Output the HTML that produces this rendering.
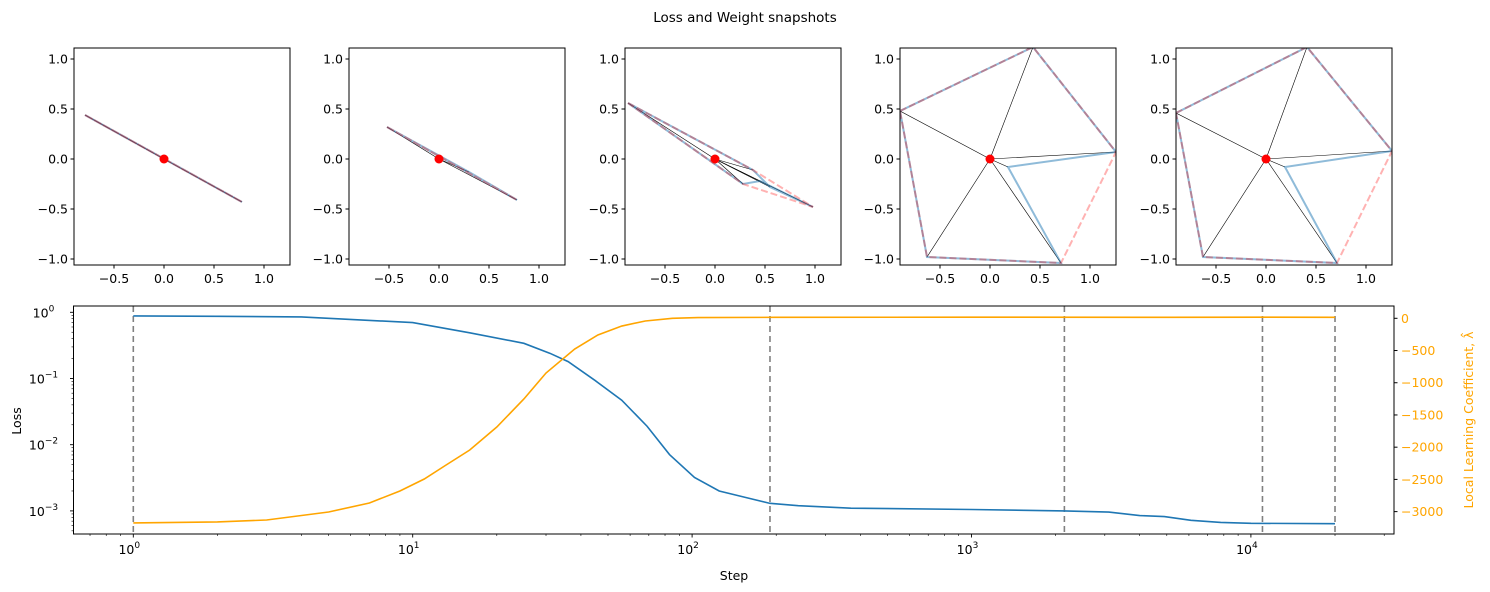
<!DOCTYPE html>
<html><head><meta charset="utf-8">
<style>
html,body{margin:0;padding:0;background:#fff;}
svg{display:block;font-family:"DejaVu Sans","Liberation Sans",sans-serif;}
</style></head>
<body>
<svg id="fig" width="1490" height="592" viewBox="0 0 1490 592" xmlns="http://www.w3.org/2000/svg">
<rect width="1490" height="592" fill="#fff"/>
<text x="745" y="22" text-anchor="middle" font-size="13.5" fill="#000">Loss and Weight snapshots</text>
</svg>
<script>
// ---------- data ----------
const snapSteps = [1, 190, 2150, 11000, 20000];
const panelLefts = [74, 349, 625, 900, 1176];
// weight hull (red dashed) polygons per snapshot
const hullPolys = [
  [[-0.79,0.44],[0.78,-0.43]],
  [[-0.52,0.32],[0.78,-0.41]],
  [[-0.87,0.56],[0.38,-0.11],[0.98,-0.48],[0.28,-0.25]],
  [[-0.90,0.48],[0.43,1.12],[1.26,0.07],[0.71,-1.04],[-0.63,-0.98]],
  [[-0.90,0.46],[0.41,1.12],[1.26,0.08],[0.71,-1.04],[-0.63,-0.98]]
];
// weight ordering (blue) polygons
const weightPolys = [
  [[-0.79,0.44],[0.78,-0.43]],
  [[-0.52,0.32],[0.3,-0.13],[0.78,-0.41]],
  [[-0.87,0.56],[0.38,-0.11],[0.55,-0.28],[0.98,-0.48],[0.45,-0.22],[0.28,-0.25]],
  [[-0.90,0.48],[0.43,1.12],[1.26,0.07],[0.18,-0.08],[0.71,-1.04],[-0.63,-0.98]],
  [[-0.90,0.46],[0.41,1.12],[1.26,0.08],[0.19,-0.08],[0.71,-1.04],[-0.63,-0.98]]
];
const panelTicksX = [-0.5, 0.0, 0.5, 1.0];
const panelTicksY = [-1.0, -0.5, 0.0, 0.5, 1.0];

const lossSteps = [1,2,4,10,16,25,31,36,45,56,69,83,102,125,155,190,240,370,1000,2150,3100,4000,4900,6100,7800,10000,20000];
const lossVals  = [0.88,0.87,0.85,0.70,0.49,0.34,0.24,0.18,0.093,0.047,0.019,0.0071,0.0032,0.0020,0.0016,0.0013,0.0012,0.0011,0.00105,0.001,0.00096,0.00085,0.00082,0.00072,0.00067,0.00065,0.00064];
const llcSteps = [1,2,3,5,7,9,11,13,16,20,25,30,38,46,56,68,85,105,200,1000,5000,11000,20000];
const llcVals  = [-3176,-3160,-3130,-3006,-2866,-2680,-2494,-2292,-2044,-1687,-1252,-849,-477,-259,-120,-42,0,12,15,17,15,18,15];
const xMajor = [1,10,100,1000,10000];
const xMajorExp = ["0","1","2","3","4"];
const yMajor = [1,0.1,0.01,0.001];
const yMajorExp = ["0","−1","−2","−3"];
const rTicks = [0,-500,-1000,-1500,-2000,-2500,-3000];

// ---------- drawing ----------
const NS="http://www.w3.org/2000/svg";
const svg=document.getElementById('fig');
function mk(tag,attrs,parent){const e=document.createElementNS(NS,tag);for(const k in attrs)e.setAttribute(k,attrs[k]);(parent||svg).appendChild(e);return e;}
function fmt(v){return (v<0?'−':'')+Math.abs(v).toFixed(1);}

// snapshot panels
const PW=216, PT=48, PH=217, X0=-0.9, X1=1.26, Y0=-1.06, Y1=1.11;
panelLefts.forEach((L,i)=>{
  const g=mk('g',{});
  
  
  const sx=v=>L+(v-X0)/(X1-X0)*PW;
  const sy=v=>PT+(Y1-v)/(Y1-Y0)*PH;
  const clipId='clip'+i;
  const cp=mk('clipPath',{id:clipId},g); mk('rect',{x:L,y:PT,width:PW,height:PH},cp);
  const inner=mk('g',{'clip-path':'url(#'+clipId+')'},g);
  const wp=weightPolys[i];
  wp.forEach(p=>{
    const ln=mk('line',{x1:sx(0),y1:sy(0),x2:sx(p[0]),y2:sy(p[1]),stroke:'#000','stroke-width':0.6},inner);
    
    
  });
  const bp=mk('polygon',{points:wp.map(p=>sx(p[0])+','+sy(p[1])).join(' '),fill:'none',stroke:'#1f77b4','stroke-opacity':0.5,'stroke-width':2},inner);
  
  
  const hp=hullPolys[i];
  const rp=mk('polygon',{points:hp.map(p=>sx(p[0])+','+sy(p[1])).join(' '),fill:'none',stroke:'#ff0000','stroke-opacity':0.3,'stroke-width':2,'stroke-dasharray':'7,3'},inner);
  
  
  const dot=mk('circle',{cx:sx(0),cy:sy(0),r:4.5,fill:'#ff0000'},g);
  
  
  mk('rect',{x:L,y:PT,width:PW,height:PH,fill:'none',stroke:'#000','stroke-width':1},g);
  panelTicksX.forEach(t=>{
    mk('line',{x1:sx(t),x2:sx(t),y1:PT+PH,y2:PT+PH+3.5,stroke:'#000'},g);
    const tx=mk('text',{x:sx(t),y:PT+PH+18,'text-anchor':'middle','font-size':12.5},g);tx.textContent=fmt(t);
    
    
  });
  panelTicksY.forEach(t=>{
    mk('line',{x1:L-3.5,x2:L,y1:sy(t),y2:sy(t),stroke:'#000'},g);
    const tx=mk('text',{x:L-6,y:sy(t)+4.5,'text-anchor':'end','font-size':12.5},g);tx.textContent=fmt(t);
    
    
  });
});

// bottom chart
const BL=73.5, BR=1394, BT=306, BB=534;
const xs=s=>133.3+279.4*Math.log10(s);
const yl=v=>312.3-66.2*Math.log10(v);
const yr=v=>318.3-0.06444*v;
const bg=mk('g',{});


snapSteps.forEach(s=>{
  const ln=mk('line',{x1:xs(s),x2:xs(s),y1:BT,y2:BB,stroke:'#808080','stroke-width':1.6,'stroke-dasharray':'6,4'},bg);
  
  
});
const lp=mk('polyline',{points:lossSteps.map((s,i)=>xs(s)+','+yl(lossVals[i])).join(' '),fill:'none',stroke:'#1f77b4','stroke-width':1.6},bg);


const op=mk('polyline',{points:llcSteps.map((s,i)=>xs(s)+','+yr(llcVals[i])).join(' '),fill:'none',stroke:'orange','stroke-width':1.6},bg);


mk('rect',{x:BL,y:BT,width:BR-BL,height:BB-BT,fill:'none',stroke:'#000','stroke-width':1},bg);
for(let d=-1;d<=4;d++){for(let m=1;m<10;m++){const s=m*Math.pow(10,d);const x=xs(s);if(x<BL||x>BR)continue;
  mk('line',{x1:x,x2:x,y1:BB,y2:BB+(m===1?3.5:2),stroke:'#000','stroke-width':m===1?0.9:0.6},bg);}}
xMajor.forEach((s,i)=>{
  const t=mk('text',{x:xs(s)-4,y:BB+20,'text-anchor':'middle','font-size':12.5},bg);
  
  
  t.textContent='10';const sp=mk('tspan',{dy:-6,'font-size':9},t);sp.textContent=xMajorExp[i];
});
for(let d=-4;d<=0;d++){for(let m=1;m<10;m++){const v=m*Math.pow(10,d);const y=yl(v);if(y<BT||y>BB)continue;
  mk('line',{x1:BL-(m===1?3.5:2),x2:BL,y1:y,y2:y,stroke:'#000','stroke-width':m===1?0.9:0.6},bg);}}
yMajor.forEach((v,i)=>{
  const t=mk('text',{x:BL-30,y:yl(v)+5,'text-anchor':'middle','font-size':12.5},bg);
  
  
  t.textContent='10';const sp=mk('tspan',{dy:-6,'font-size':9},t);sp.textContent=yMajorExp[i];
});
rTicks.forEach(v=>{
  mk('line',{x1:BR,x2:BR+3.5,y1:yr(v),y2:yr(v),stroke:'#000'},bg);
  const t=mk('text',{x:BR+7,y:yr(v)+4.5,'font-size':12.5,fill:'orange'},bg);
  
  
  t.textContent=(v<0?'−':'')+Math.abs(v);
});
const xl=mk('text',{x:734,y:580,'text-anchor':'middle','font-size':12.5},bg);xl.textContent='Step';


const ylab=mk('text',{x:0,y:0,'text-anchor':'middle','font-size':12.5,transform:'translate(21,421) rotate(-90)'},bg);ylab.textContent='Loss';


const rlab=mk('text',{x:0,y:0,'text-anchor':'middle','font-size':12.5,fill:'orange',transform:'translate(1473,420) rotate(-90)'},bg);rlab.textContent='Local Learning Coefficient, λ̂';


</script>
</body></html>
